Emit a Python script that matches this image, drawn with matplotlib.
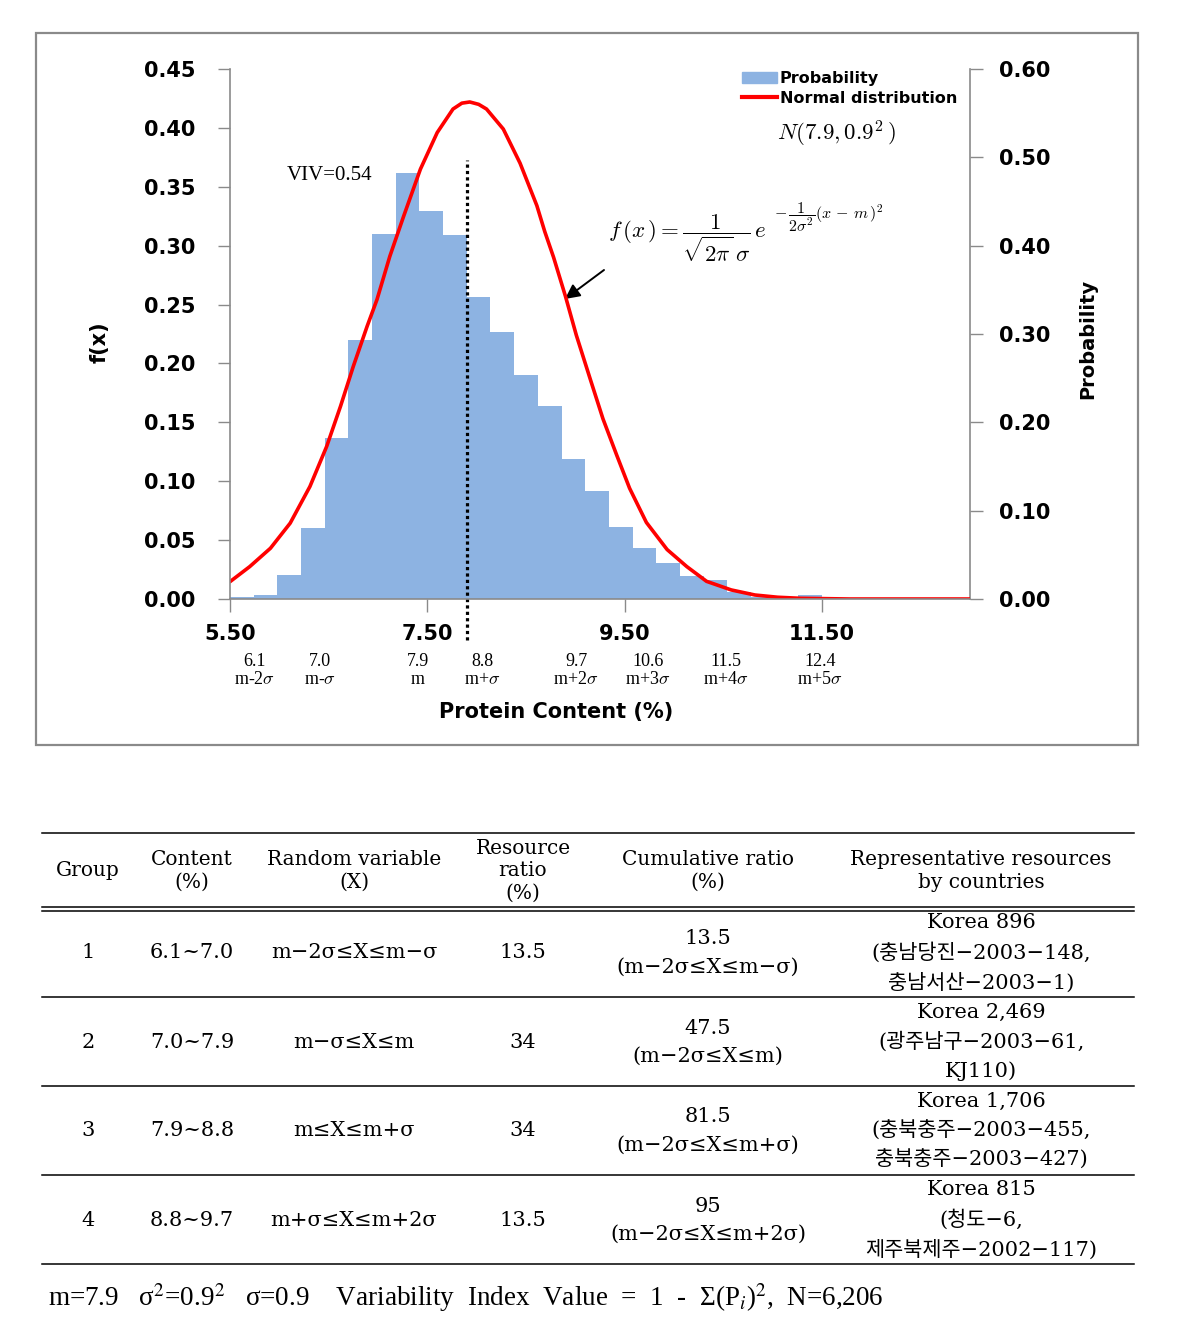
import numpy as np
import matplotlib

matplotlib.use("Agg")
import matplotlib.pyplot as plt  # noqa: E402
from matplotlib.patches import Rectangle, Patch  # noqa: E402
from matplotlib.lines import Line2D  # noqa: E402

W, H = 1186, 1328

# histogram of protein content (right axis, probability)
BIN_LEFT = [5.50, 5.74, 5.98, 6.22, 6.46, 6.70, 6.94, 7.18, 7.42, 7.66,
            7.90, 8.14, 8.38, 8.62, 8.86, 9.10, 9.34, 9.58, 9.82, 10.06,
            10.30, 10.54, 10.78, 11.02, 11.26]
BIN_WIDTH = 0.24
BIN_PROB = [0.002, 0.005, 0.027, 0.080, 0.182, 0.293, 0.413, 0.482, 0.439,
            0.412, 0.342, 0.302, 0.254, 0.218, 0.159, 0.122, 0.082, 0.058,
            0.041, 0.026, 0.022, 0.008, 0.002, 0.001, 0.004]

# normal distribution curve (left axis, f(x))
CURVE_X = [5.50, 5.70, 5.91, 6.11, 6.31, 6.48, 6.62, 6.75, 6.89, 6.99,
           7.12, 7.26, 7.43, 7.60, 7.76, 7.85, 7.93, 8.02, 8.10, 8.27,
           8.44, 8.61, 8.69, 8.78, 8.90, 9.01, 9.15, 9.28, 9.42, 9.55,
           9.72, 9.93, 10.13, 10.33, 10.58, 10.82, 11.05, 11.28, 11.78, 13.00]
CURVE_FX = [0.0147, 0.0275, 0.0431, 0.0644, 0.0955, 0.1296, 0.1636, 0.1976,
            0.2316, 0.2543, 0.291, 0.325, 0.365, 0.396, 0.416, 0.421, 0.422,
            0.420, 0.416, 0.399, 0.370, 0.334, 0.312, 0.290, 0.257, 0.224,
            0.187, 0.153, 0.122, 0.094, 0.065, 0.042, 0.0275, 0.015, 0.0077,
            0.0034, 0.0015, 0.0006, 0.0, 0.0]

MEAN = 7.9
VIV = 0.54

X_TICKS = [5.5, 7.5, 9.5, 11.5]
LEFT_TICKS = [0.00, 0.05, 0.10, 0.15, 0.20, 0.25, 0.30, 0.35, 0.40, 0.45]
RIGHT_TICKS = [0.00, 0.10, 0.20, 0.30, 0.40, 0.50, 0.60]

SIGMA_VALUES = ["6.1", "7.0", "7.9", "8.8", "9.7", "10.6", "11.5", "12.4"]
SIGMA_NAMES = [r"m-2$\sigma$", r"m-$\sigma$", "m", r"m+$\sigma$",
               r"m+2$\sigma$", r"m+3$\sigma$", r"m+4$\sigma$", r"m+5$\sigma$"]

# table
TABLE_HEADER = ["Group", "Content\n(%)", "Random variable\n(X)",
                "Resource\nratio\n(%)", "Cumulative ratio\n(%)",
                "Representative resources\nby countries"]
GROUPS = ["1", "2", "3", "4"]
CONTENT = ["6.1~7.0", "7.0~7.9", "7.9~8.8", "8.8~9.7"]
RANDOM_VAR = ["m−2σ≤X≤m−σ", "m−σ≤X≤m", "m≤X≤m+σ", "m+σ≤X≤m+2σ"]
RESOURCE_RATIO = ["13.5", "34", "34", "13.5"]
CUMULATIVE = ["13.5", "47.5", "81.5", "95"]
CUMULATIVE_RANGE = ["(m−2σ≤X≤m−σ)", "(m−2σ≤X≤m)", "(m−2σ≤X≤m+σ)",
                    "(m−2σ≤X≤m+2σ)"]
RESOURCES = ["Korea 896\n(충남당진−2003−148,\n충남서산−2003−1)",
             "Korea 2,469\n(광주남구−2003−61,\nKJ110)",
             "Korea 1,706\n(충북충주−2003−455,\n충북충주−2003−427)",
             "Korea 815\n(청도−6,\n제주북제주−2002−117)"]

plt.rcParams["mathtext.fontset"] = "cm"
SERIF = ["DejaVu Serif", "Noto Sans CJK KR"]
GRAY = "#8a8a8a"

fig = plt.figure(figsize=(W / 100, H / 100), dpi=100)

ax2 = fig.add_axes([230 / W, 1 - 599 / H, 740 / W, 530 / H])
ax = fig.add_axes([230 / W, 1 - 599 / H, 740 / W, 530 / H], sharex=ax2)
ax.set_zorder(ax2.get_zorder() + 1)
ax.patch.set_visible(False)

bars = ax2.bar(BIN_LEFT, BIN_PROB, width=BIN_WIDTH, align="edge",
               color="#8db3e2", edgecolor="none")
line, = ax.plot(CURVE_X, CURVE_FX, color="#ff0000", lw=2.6,
                solid_joinstyle="round", solid_capstyle="round")
ax.plot([MEAN, MEAN], [-0.035, 0.3726], color="black", lw=2.3,
        linestyle=(0, (1.0, 1.0)), clip_on=False)

ax.set_xlim(5.5, 13.0)
ax.set_ylim(0, 0.45)
ax2.set_ylim(0, 0.60)

ax.set_xticks(X_TICKS, labels=[f"{t:.2f}" for t in X_TICKS],
              fontsize=15, fontweight="bold")
ax.set_yticks(LEFT_TICKS, labels=[f"{t:.2f}" for t in LEFT_TICKS],
              fontsize=15, fontweight="bold")
ax2.yaxis.tick_right()
ax2.set_yticks(RIGHT_TICKS, labels=[f"{t:.2f}" for t in RIGHT_TICKS],
               fontsize=15, fontweight="bold")
ax2.tick_params(axis="x", bottom=False, labelbottom=False)

ax.tick_params(axis="y", direction="out", length=9, width=1, color=GRAY, pad=16)
ax.tick_params(axis="x", direction="out", length=9, width=1, color=GRAY, pad=9)
ax2.tick_params(axis="y", direction="out", length=9, width=1, color=GRAY, pad=12)

for s in ["top", "right"]:
    ax.spines[s].set_visible(False)
for s in ["top", "left", "bottom"]:
    ax2.spines[s].set_visible(False)
for sp in [ax.spines["left"], ax.spines["bottom"], ax2.spines["right"]]:
    sp.set_color(GRAY)
    sp.set_linewidth(1.2)

ax.set_xlabel("Protein Content (%)", fontsize=15, fontweight="bold")
ax.xaxis.set_label_coords((556 - 230) / 740, (599 - 712) / 530)
ax.xaxis.label.set_va("center")
ax.set_ylabel("f(x)", fontsize=15, fontweight="bold")
ax.yaxis.set_label_coords((100 - 230) / 740, (599 - 342) / 530)
ax.yaxis.label.set_va("center")
ax2.set_ylabel("Probability", fontsize=14, fontweight="bold")
ax2.yaxis.set_label_coords((1088 - 230) / 740, (599 - 339) / 530)
ax2.yaxis.label.set_va("center")
ax2.yaxis.label.set_rotation(90)

fig.legend(handles=[Patch(color="#8db3e2"), Line2D([], [], color="#ff0000", lw=3)],
           labels=["Probability", "Normal distribution"],
           loc="upper left", bbox_to_anchor=(742 / W, 1 - 71 / H),
           frameon=False, borderpad=0, borderaxespad=0, handlelength=2.2,
           handletextpad=0.15, labelspacing=0.3,
           prop={"weight": "bold", "size": 11.5})

# overlay in figure pixels for annotations and the table
ov = fig.add_axes([0, 0, 1, 1])
ov.set_xlim(0, W)
ov.set_ylim(H, 0)
ov.axis("off")
ov.patch.set_visible(False)

ov.add_patch(Rectangle((36, 33), 1102, 712, fill=False, edgecolor=GRAY, lw=1.6))

ov.text(330, 175, f"VIV={VIV}", fontsize=15, family="Liberation Serif",
        ha="center", va="center")
ov.text(777, 134, r"$N(7.9, 0.9^{2}\,)$", fontsize=16.5, ha="left", va="center")
ov.text(608, 238, r"$f\,(x\,) = \dfrac{1}{\sqrt{2\pi}\,\sigma}\,e$",
        fontsize=16.5, ha="left", va="center")
ov.text(774, 217, r"$-\,\dfrac{1}{2\sigma^{2}}(x\,-\,m\,)^{2}$",
        fontsize=11.5, ha="left", va="center")
ov.annotate("", xy=(565, 299), xytext=(604, 270),
            arrowprops=dict(arrowstyle="-|>", color="black", lw=1.4,
                            mutation_scale=22, shrinkA=0, shrinkB=0))

sig_x = [255, 320, 418, 482, 576, 648, 726, 820]
for xp, val, name in zip(sig_x, SIGMA_VALUES, SIGMA_NAMES):
    ov.text(xp, 662, val, fontsize=13, family="Liberation Serif",
            ha="center", va="center")
    ov.text(xp, 680, name, fontsize=13, family="Liberation Serif",
            ha="center", va="center")

# table rules
x0, x1 = 42, 1134
ov.plot([x0, x1], [833, 833], color="black", lw=1.1)
ov.plot([x0, x1], [907, 907], color="black", lw=1.1)
ov.plot([x0, x1], [910.5, 910.5], color="black", lw=1.1)
for yl in [997, 1086, 1175, 1264]:
    ov.plot([x0, x1], [yl, yl], color="black", lw=1.1)

col_x = [88, 192, 354, 523, 708, 981]
for cx, head in zip(col_x, TABLE_HEADER):
    ov.text(cx, 871, head, fontsize=14.5, family=SERIF, ha="center",
            va="center", linespacing=1.25)

row_y = [953, 1042, 1131, 1220]
for i, ry in enumerate(row_y):
    cells = [GROUPS[i], CONTENT[i], RANDOM_VAR[i], RESOURCE_RATIO[i],
             CUMULATIVE[i] + "\n" + CUMULATIVE_RANGE[i], RESOURCES[i]]
    for cx, cell in zip(col_x, cells):
        ov.text(cx, ry, cell, fontsize=15, family=SERIF, ha="center",
                va="center", linespacing=1.6)

ov.text(48, 1298,
        r"m=7.9   σ$^{2}$=0.9$^{2}$   σ=0.9    Variability  Index  Value  =  1  -  "
        r"Σ(P$_{i}$)$^{2}$,  N=6,206",
        fontsize=19.5, family="Liberation Serif", math_fontfamily="stix",
        ha="left", va="center")

fig.savefig("out.png", dpi=100)
